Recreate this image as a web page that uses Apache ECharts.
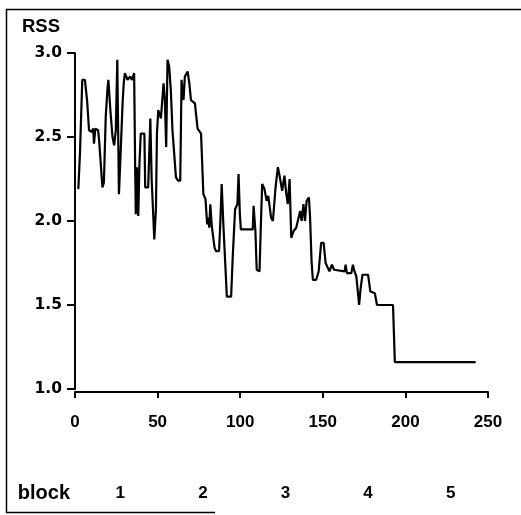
<!DOCTYPE html>
<html>
<head>
<meta charset="utf-8">
<script src="https://cdn.jsdelivr.net/npm/echarts@6/dist/echarts.min.js"></script>
<style>
html,body{margin:0;padding:0;background:#fff;}
#chart{width:521px;height:515px;}
</style>
</head>
<body>
<div id="chart"></div>
<script>
// Trial number (x) and RSS value
var trialX = [2,3,4.4,6,7.3,8.5,10,11,11.5,12.3,14,14.6,15.5,16.6,17.5,18.6,19.6,20.2,21.4,22.7,23.7,24.7,25.6,26.6,27.6,28.8,29.5,30.2,31.8,33.4,34.5,35.8,36.4,36.8,37.5,38.3,39.0,39.8,42.0,42.5,44.3,45.6,46.4,48.0,49.0,49.6,50.4,52.0,53.6,54.4,55.2,56.0,57.0,58.0,59.0,61.1,62.4,63.7,64.5,65.7,66.5,68.2,69.2,70.2,72.6,74.2,76.3,77.7,79.0,80.0,80.6,81.3,81.9,82.8,84.5,85.4,87.2,88.0,88.8,89.8,90.6,91.9,94.5,95.5,96.9,98.3,99.0,99.8,100.4,107.6,108.1,109.2,110.0,111.7,112.4,113.3,114.7,116.0,117.0,118.7,119.8,121.4,122.8,124.0,125.4,126.8,127.8,128.8,129.9,130.9,132.3,133.9,135.0,136.3,137.2,138.3,139.2,140.2,141.6,142.3,143.2,144.0,146.0,147.5,149.0,150.5,151.7,152.8,154.0,155.5,156.8,158.0,163.2,163.8,164.6,167.3,168.2,169.2,170.3,172.0,172.8,174.0,177.4,178.8,181.5,182.8,192.5,193.6,242.5];
var rssValues = [2.19,2.40,2.84,2.84,2.72,2.54,2.53,2.55,2.46,2.55,2.54,2.48,2.47,2.20,2.23,2.62,2.78,2.84,2.66,2.50,2.45,2.54,2.96,2.16,2.40,2.70,2.82,2.88,2.84,2.86,2.84,2.88,2.34,2.04,2.32,2.03,2.34,2.52,2.52,2.20,2.20,2.61,2.25,1.89,2.07,2.52,2.66,2.61,2.82,2.72,2.44,2.96,2.92,2.78,2.54,2.26,2.24,2.24,2.84,2.72,2.86,2.89,2.82,2.72,2.70,2.55,2.52,2.16,2.13,1.98,2.02,1.96,2.10,1.97,1.84,1.82,1.82,2.00,2.22,1.98,1.82,1.55,1.55,1.79,2.07,2.10,2.28,2.04,1.95,1.95,2.09,1.94,1.71,1.70,1.94,2.22,2.19,2.12,2.15,2.02,2.00,2.20,2.32,2.26,2.18,2.27,2.17,2.10,2.25,1.90,1.94,1.96,1.96,2.06,2.00,2.10,2.00,2.12,2.14,2.02,1.76,1.65,1.65,1.70,1.87,1.87,1.75,1.74,1.70,1.74,1.71,1.70,1.70,1.74,1.69,1.69,1.74,1.70,1.67,1.50,1.59,1.68,1.68,1.58,1.57,1.50,1.50,1.16,1.16];
var blockLabels = ['1','2','3','4','5'];
var xTickInterval = 50;
var yTickInterval = 0.5;

var pts = trialX.map(function(x, i){ return [x, rssValues[i]]; });

var chart = echarts.init(document.getElementById('chart'), null, {renderer:'canvas'});
var boldFont = 'Liberation Sans';
chart.setOption({
  animation: false,
  backgroundColor: '#ffffff',
  grid: {left: 75, right: 33, top: 53, bottom: 126, containLabel: false},
  xAxis: [{
    type: 'value', min: 0, max: 250, interval: xTickInterval,
    offset: 3,
    axisLine: {show: true, lineStyle: {color: '#000', width: 2}},
    axisTick: {show: true, inside: false, length: 6, lineStyle: {color: '#000', width: 2}},
    axisLabel: {color: '#000', fontFamily: boldFont, fontWeight: 'bold', fontSize: 17, margin: 22},
    splitLine: {show: false}
  }, {
    type: 'category', data: blockLabels, position: 'bottom', offset: 104,
    boundaryGap: true,
    axisLine: {show: false}, axisTick: {show: false}, splitLine: {show: false},
    axisLabel: {color: '#000', fontFamily: boldFont, fontWeight: 'bold', fontSize: 17, margin: 0, verticalAlign: 'middle', padding: [0,0,0,8]},
    name: 'block', nameLocation: 'start', nameGap: 5,
    nameTextStyle: {color: '#000', fontFamily: boldFont, fontWeight: 'bold', fontSize: 20, verticalAlign: 'middle'}
  }],
  yAxis: {
    type: 'value', min: 1, max: 3, interval: yTickInterval,
    axisLine: {show: true, lineStyle: {color: '#000', width: 2}},
    axisTick: {show: true, length: 8, lineStyle: {color: '#000', width: 2}},
    axisLabel: {color: '#000', fontFamily: 'DejaVu Sans', fontWeight: 'bold', fontSize: 15.5, margin: 13,
      formatter: function(v){ return v.toFixed(1); }},
    splitLine: {show: false}
  },
  series: [{
    type: 'line', xAxisIndex: 0, data: pts, showSymbol: false, symbol: 'none',
    lineStyle: {color: '#000', width: 2.2}
  }],
  graphic: [
    {type: 'text', left: 22, top: 17, style: {text: 'RSS', fill: '#000', font: 'bold 18.5px "Liberation Sans"'}},
    {type: 'line', shape: {x1: 6.5, y1: 9, x2: 6.5, y2: 513}, style: {stroke: '#000', lineWidth: 1.5}},
    {type: 'line', shape: {x1: 6, y1: 9.5, x2: 521, y2: 9.5}, style: {stroke: '#000', lineWidth: 1.5}},
    {type: 'line', shape: {x1: 6, y1: 512.5, x2: 215, y2: 512.5}, style: {stroke: '#000', lineWidth: 1.5}}
  ]
});
</script>
</body>
</html>
